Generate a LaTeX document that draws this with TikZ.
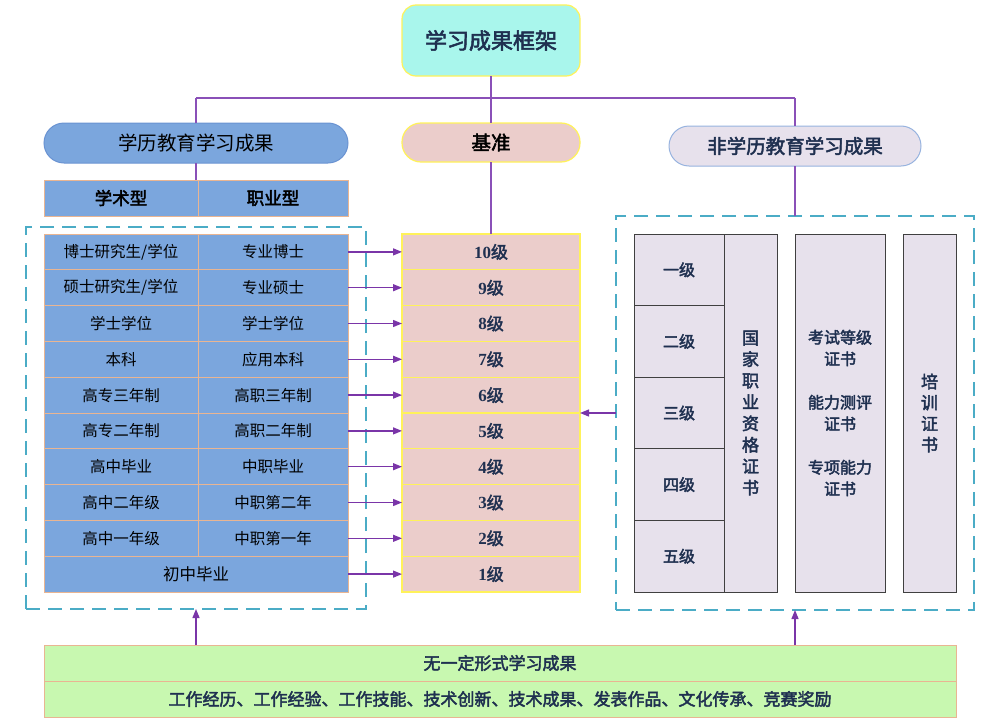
\documentclass[tikz,border=0pt]{standalone}
\usepackage{fontspec}
\setmainfont{Noto Sans CJK SC}[AutoFakeBold=2.5]
\newfontfamily\serifnum{Liberation Serif}
\usetikzlibrary{arrows.meta}
\definecolor{navy}{HTML}{1F3050}
\definecolor{purp}{HTML}{8A50B8}
\definecolor{arrc}{HTML}{7A35A8}
\definecolor{teal}{HTML}{4BACC6}
\definecolor{cellblue}{HTML}{7BA6DD}
\definecolor{cellbord}{HTML}{E9B592}
\definecolor{pinkf}{HTML}{EBCDCB}
\definecolor{yel}{HTML}{FFF25A}
\definecolor{aqua}{HTML}{A9F6EC}
\definecolor{lav}{HTML}{E7E1EC}
\definecolor{greenf}{HTML}{C8F8B0}
\definecolor{headbord}{HTML}{6A93D2}
\tikzset{
  every node/.style={inner sep=0pt, outer sep=0pt},
  cell/.style={draw=cellbord, line width=1pt, fill=cellblue, minimum height=35.8pt, font=\fontsize{15.5}{18}\selectfont, text=black},
  lvl/.style={draw=yel, line width=1.2pt, fill=pinkf, minimum width=178pt, minimum height=35.8pt, font=\fontsize{17}{20}\selectfont\bfseries, text=navy},
  grade/.style={draw=black!75, line width=0.9pt, fill=lav, font=\fontsize{16}{21.5}\selectfont\bfseries, text=navy, align=center},
  dashbox/.style={draw=teal, line width=1.6pt, dash pattern=on 14pt off 8pt},
  link/.style={draw=purp, line width=1.3pt},
  arr/.style={draw=arrc, line width=1.3pt, -{Triangle[length=9pt,width=7pt]}},
  greenbox/.style={draw=cellbord, line width=1pt, fill=greenf, minimum width=912pt, minimum height=36pt, font=\fontsize{17}{20}\selectfont\bfseries, text=navy},
}
\begin{document}
\begin{tikzpicture}[x=1pt,y=-1pt]
\useasboundingbox (0,0) rectangle (1000,725);
% title
\node[draw=yel, line width=1.2pt, fill=aqua, rounded corners=14pt, minimum width=178pt, minimum height=71pt, font=\fontsize{22}{24}\selectfont\bfseries, text=navy] (top) at (491,40.5) {学习成果框架};
% headers
\node[draw=headbord, line width=1pt, fill=cellblue, rounded corners=20pt, minimum width=304pt, minimum height=40pt, font=\fontsize{19.5}{22}\selectfont, text=black] (lhead) at (196,143) {学历教育学习成果};
\node[draw=yel, line width=1.2pt, fill=pinkf, rounded corners=19pt, minimum width=178pt, minimum height=39pt, font=\fontsize{19.5}{22}\selectfont\bfseries, text=black] (mhead) at (491,142.5) {基准};
\node[draw=headbord!70, line width=1pt, fill=lav, rounded corners=20pt, minimum width=252pt, minimum height=40pt, font=\fontsize{19.5}{22}\selectfont\bfseries, text=navy] (rhead) at (795,146) {非学历教育学习成果};
% type row
\node[cell, minimum width=154pt, minimum height=36pt, font=\fontsize{17.5}{20}\selectfont\bfseries] (ta) at (121,198) {学术型};
\node[cell, minimum width=150pt, minimum height=36pt, font=\fontsize{17.5}{20}\selectfont\bfseries] (tb) at (273,198) {职业型};
% dashed frames
\node[dashbox, minimum width=340pt, minimum height=382pt] (ldash) at (196,418) {};
\node[dashbox, minimum width=358pt, minimum height=394pt] (rdash) at (795,413) {};
% left table and levels
\foreach \i/\a/\b/\l in {1/博士研究生\slash 学位/专业博士/10,2/硕士研究生\slash 学位/专业硕士/9,3/学士学位/学士学位/8,4/本科/应用本科/7,5/高专三年制/高职三年制/6,6/高专二年制/高职二年制/5,7/高中毕业/中职毕业/4,8/高中二年级/中职第二年/3,9/高中一年级/中职第一年/2}{
  \pgfmathsetmacro{\yy}{234+35.8*(\i-0.5)}
  \node[cell, minimum width=154pt] (la\i) at (121,\yy) {\a};
  \node[cell, minimum width=150pt] (lb\i) at (273,\yy) {\b};
  \node[lvl] (lv\i) at (491,\yy) {{\serifnum\bfseries\l}级};
  \draw[arr] (lb\i.east) -- (lv\i.west);
}
\node[cell, minimum width=304pt, font=\fontsize{16.5}{18}\selectfont] (lb10) at (196,574.1) {初中毕业};
\node[lvl] (lv10) at (491,574.1) {{\serifnum\bfseries 1}级};
\draw[arr] (lb10.east) -- (lv10.west);
% right side
\foreach \i/\t in {1/一级,2/二级,3/三级,4/四级,5/五级}{
  \pgfmathsetmacro{\yy}{234+71.6*(\i-0.5)}
  \node[grade, minimum width=90pt, minimum height=71.6pt] (g\i) at (679,\yy) {\t};
}
\node[grade, minimum width=53pt, minimum height=358pt, font=\fontsize{17}{21.4}\selectfont\bfseries] (cert) at (750.5,413) {国\\家\\职\\业\\资\\格\\证\\书};
\node[grade, minimum width=90pt, minimum height=358pt] (exam) at (840,413) {考试等级\\证书\\[22pt]能力测评\\证书\\[22pt]专项能力\\证书};
\node[grade, minimum width=53pt, minimum height=358pt, font=\fontsize{17}{21}\selectfont\bfseries] (train) at (929.5,413) {培\\训\\证\\书};
% bottom
\node[greenbox] (gr1) at (500,663) {无一定形式学习成果};
\node[greenbox] (gr2) at (500,699) {工作经历、工作经验、工作技能、技术创新、技术成果、发表作品、文化传承、竞赛奖励};
% connectors
\coordinate (hl) at (196,98);
\coordinate (hr) at (795,98);
\draw[link] (hl) -- (hr);
\draw[link] (top.south) -- (mhead.north);
\draw[link] (lhead.north) -- (lhead.north |- hl);
\draw[link] (rhead.north) -- (rhead.north |- hr);
\draw[link] (lhead.south) -- (lhead.south |- ta.north);
\draw[link] (mhead.south) -- (lv1.north);
\draw[link] (rhead.south) -- (rdash.north);
\draw[arr] (rdash.west) -- (rdash.west -| lv5.east);
\draw[arr] (gr1.north -| ldash.south) -- (ldash.south);
\draw[arr] (gr1.north -| rdash.south) -- (rdash.south);
\end{tikzpicture}
\end{document}
